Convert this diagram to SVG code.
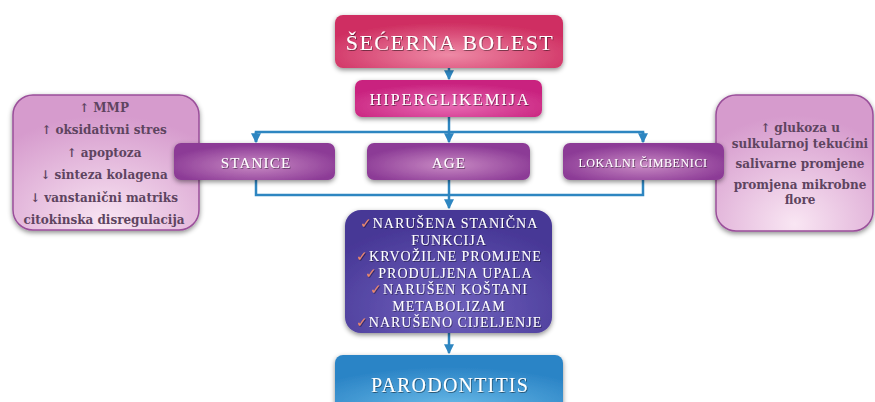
<svg xmlns="http://www.w3.org/2000/svg" width="875" height="402" viewBox="0 0 875 402">
<defs>
<filter id="sh" x="-10%" y="-20%" width="120%" height="150%"><feDropShadow dx="0" dy="2" stdDeviation="2.5" flood-color="#000" flood-opacity="0.45"/></filter>
<filter id="ts" x="-5%" y="-20%" width="110%" height="150%"><feDropShadow dx="0.8" dy="1" stdDeviation="0.6" flood-color="#000" flood-opacity="0.45"/></filter>
<radialGradient id="gRed" cx="0.5" cy="0.75" r="0.6"><stop offset="0" stop-color="#ee8aa6"/><stop offset="1" stop-color="#cf2f62"/></radialGradient>
<radialGradient id="gMag" cx="0.5" cy="0.7" r="0.6"><stop offset="0" stop-color="#e86bb4"/><stop offset="1" stop-color="#c9237f"/></radialGradient>
<radialGradient id="gPur" cx="0.5" cy="0.6" r="0.55"><stop offset="0" stop-color="#c98ac4"/><stop offset="1" stop-color="#8c3b96"/></radialGradient>
<radialGradient id="gPink" cx="0.5" cy="0.95" r="0.8"><stop offset="0" stop-color="#f9e6f3"/><stop offset="1" stop-color="#d69bcd"/></radialGradient>
<radialGradient id="gVio" cx="0.5" cy="0.8" r="0.7"><stop offset="0" stop-color="#6f62bd"/><stop offset="1" stop-color="#473796"/></radialGradient>
<radialGradient id="gBlue" cx="0.5" cy="0.9" r="0.7"><stop offset="0" stop-color="#6bbbe8"/><stop offset="1" stop-color="#2b84c6"/></radialGradient>
<marker id="ar" viewBox="0 0 8 8" refX="7" refY="4" markerWidth="4" markerHeight="4" orient="auto"><path d="M0,0 L8,4 L0,8 z" fill="#2e86c1"/></marker>
<style>
.ttl{font-family:"Liberation Serif","DejaVu Serif",serif;fill:#fff;text-anchor:middle;}
.side{font-family:"DejaVu Serif","Liberation Serif",serif;font-weight:bold;font-size:12px;fill:#5e4460;text-anchor:middle;}
.vio{font-family:"Liberation Serif","DejaVu Serif",serif;font-size:14px;fill:#fff;text-anchor:middle;letter-spacing:1px;}
.ck{fill:#f08a6a;}
.conn{fill:none;stroke:#2e86c1;stroke-width:2.5;}
</style>
</defs>
<rect width="875" height="402" fill="#fff"/>

<g id="left-box">
<rect x="13" y="95" width="186" height="135" rx="20" fill="url(#gPink)" stroke="#9a4f9a" stroke-width="1.5" filter="url(#sh)"/>
<text class="side" x="104" y="112">↑ MMP</text>
<text class="side" x="104" y="134">↑ oksidativni stres</text>
<text class="side" x="104" y="157">↑ apoptoza</text>
<text class="side" x="104" y="179">↓ sinteza kolagena</text>
<text class="side" x="104" y="202">↓ vanstanični matriks</text>
<text class="side" x="104" y="224">citokinska disregulacija</text>
</g>

<g id="right-box">
<rect x="716" y="95" width="157" height="136" rx="20" fill="url(#gPink)" stroke="#9a4f9a" stroke-width="1.5" filter="url(#sh)"/>
<text class="side" x="800" y="132">↑ glukoza u</text>
<text class="side" x="800" y="148">sulkularnoj tekućini</text>
<text class="side" x="800" y="168">salivarne promjene</text>
<text class="side" x="800" y="189">promjena mikrobne</text>
<text class="side" x="800" y="204">flore</text>
</g>

<g id="connectors">
<path class="conn" d="M449,68 V79" marker-end="url(#ar)"/>
<path class="conn" d="M449,117 V132"/>
<path class="conn" d="M256,142 V132 H643 V142" />
<path class="conn" d="M256,132 V142" marker-end="url(#ar)"/>
<path class="conn" d="M449,132 V142" marker-end="url(#ar)"/>
<path class="conn" d="M643,132 V142" marker-end="url(#ar)"/>
<path class="conn" d="M256,180 V195 H643 V180"/>
<path class="conn" d="M449,180 V208" marker-end="url(#ar)"/>
<path class="conn" d="M449,333 V353" marker-end="url(#ar)"/>
</g>

<g id="secerna-bolest">
<rect x="335" y="15" width="228" height="53" rx="8" fill="url(#gRed)" filter="url(#sh)"/>
<text class="ttl" x="450" y="50" font-size="22" letter-spacing="1.5" filter="url(#ts)">ŠEĆERNA BOLEST</text>
</g>

<g id="hiperglikemija">
<rect x="355" y="80" width="187" height="37" rx="7" fill="url(#gMag)" filter="url(#sh)"/>
<text class="ttl" x="450" y="105" font-size="16.5" letter-spacing="1.8" filter="url(#ts)">HIPERGLIKEMIJA</text>
</g>

<g id="stanice">
<rect x="174" y="143" width="161" height="37" rx="7" fill="url(#gPur)" filter="url(#sh)"/>
<text class="ttl" x="256" y="168" font-size="15" letter-spacing="1.2" filter="url(#ts)">STANICE</text>
</g>

<g id="age">
<rect x="367" y="143" width="163" height="37" rx="7" fill="url(#gPur)" filter="url(#sh)"/>
<text class="ttl" x="449" y="168" font-size="15" letter-spacing="1.2" filter="url(#ts)">AGE</text>
</g>

<g id="lokalni">
<rect x="563" y="143" width="161" height="37" rx="7" fill="url(#gPur)" filter="url(#sh)"/>
<text class="ttl" x="643" y="167" font-size="12" letter-spacing="0.6" filter="url(#ts)">LOKALNI ČIMBENICI</text>
</g>

<g id="posljedice">
<rect x="345" y="210" width="207" height="123" rx="16" fill="url(#gVio)" filter="url(#sh)"/>
<g class="vio" filter="url(#ts)">
<text x="449" y="228"><tspan class="ck">✓</tspan>NARUŠENA STANIČNA</text>
<text x="449" y="245">FUNKCIJA</text>
<text x="449" y="261"><tspan class="ck">✓</tspan>KRVOŽILNE PROMJENE</text>
<text x="449" y="278"><tspan class="ck">✓</tspan>PRODULJENA UPALA</text>
<text x="449" y="294"><tspan class="ck">✓</tspan>NARUŠEN KOŠTANI</text>
<text x="449" y="311">METABOLIZAM</text>
<text x="449" y="327"><tspan class="ck">✓</tspan>NARUŠENO CIJELJENJE</text>
</g>
</g>

<g id="parodontitis">
<rect x="335" y="355" width="228" height="60" rx="8" fill="url(#gBlue)" filter="url(#sh)"/>
<text class="ttl" x="450" y="392" font-size="20" letter-spacing="1.2" filter="url(#ts)">PARODONTITIS</text>
</g>
</svg>
